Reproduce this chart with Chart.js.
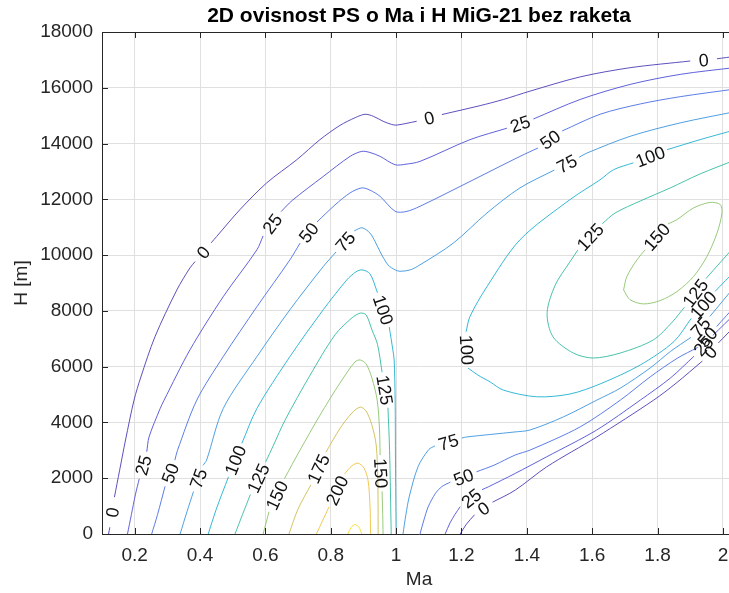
<!DOCTYPE html>
<html>
<head>
<meta charset="utf-8">
<title>2D ovisnost PS o Ma i H MiG-21 bez raketa</title>
<script src="https://cdn.jsdelivr.net/npm/chart.js@4.4.1/dist/chart.umd.min.js"></script>
<style>
  html, body { margin: 0; padding: 0; background: #fff; overflow: hidden; }
  #wrap { width: 760px; height: 593px; }
</style>
</head>
<body>
<div id="wrap"><canvas id="ps" width="760" height="593"></canvas></div>
<script>
'use strict';

// Axis ticks
const maTicks = [0.2, 0.4, 0.6, 0.8, 1, 1.2, 1.4, 1.6, 1.8, 2];
const hTicks = [0, 2000, 4000, 6000, 8000, 10000, 12000, 14000, 16000, 18000];

// Contour levels of PS
const levels = [0, 25, 50, 75, 100, 125, 150, 175, 200, 225];

// Contour lines as [Ma, H]; null marks the gap where the level label sits
const ps0a = [
  [0.120, 0], [0.124, 240], null,
  [0.138, 1320], [0.154, 2290], [0.172, 3370], [0.198, 4800], [0.219, 5630], [0.262, 7070],
  [0.329, 8750], [0.369, 9540], [0.385, 9770], null,
  [0.434, 10440], [0.451, 10670], [0.522, 11630], [0.604, 12590], [0.696, 13420], [0.767, 14140],
  [0.828, 14650], [0.875, 14930], [0.905, 15050], [0.93, 14980], [0.96, 14800], [0.985, 14690],
  [1.0, 14660], [1.03, 14720], [1.063, 14800], null,
  [1.14, 15040], [1.257, 15360], [1.328, 15580], [1.41, 15880], [1.563, 16390], [1.716, 16720],
  [1.9, 16960], null,
  [1.982, 17040], [2.04, 17130],
];
const ps0b = [
  [1.196, 0], [1.215, 350], [1.24, 690], null,
  [1.295, 1140], [1.364, 1570], [1.461, 2410], [1.614, 3480], [1.788, 4800], [1.857, 5410],
  [1.937, 6200], null,
  [1.986, 6850], [2.04, 7500],
];
const ps25a = [
  [0.178, 0], [0.19, 700], [0.202, 1400], [0.214, 1980], null,
  [0.237, 2950], [0.244, 3480], [0.278, 4500], [0.29, 4800], [0.369, 6600], [0.471, 8510],
  [0.574, 10190], [0.593, 10690], null,
  [0.648, 11560], [0.682, 11960], [0.777, 12820], [0.859, 13540], [0.895, 13720], [0.92, 13680],
  [0.951, 13540], [0.997, 13240], [1.03, 13260], [1.073, 13360], [1.226, 14140], [1.339, 14550], null,
  [1.42, 14880], [1.563, 15580], [1.716, 16120], [1.869, 16480], [2.04, 16730],
];
const ps25b = [
  [1.15, 0], [1.165, 400], [1.18, 700], [1.196, 980], null,
  [1.263, 1590], [1.282, 1690], [1.364, 2170], [1.461, 2770], [1.614, 3730], [1.747, 4800],
  [1.839, 5590], [1.911, 6370], null,
  [1.969, 7120], [2.04, 7930],
];
const ps50a = [
  [0.252, 0], [0.27, 700], [0.293, 1710], null,
  [0.323, 2650], [0.331, 3000], [0.39, 4800], [0.471, 6360], [0.574, 8150], [0.675, 9830],
  [0.706, 10430], null,
  [0.758, 11190], [0.813, 11800], [0.859, 12230], [0.895, 12410], [0.92, 12330], [0.951, 12105],
  [0.997, 11570], [1.03, 11560], [1.073, 11750], [1.226, 12640], [1.379, 13540], [1.434, 13840], null,
  [1.508, 14450], [1.624, 15050], [1.747, 15420], [1.869, 15680], [2.04, 15960],
];
const ps50b = [
  [1.073, 0], [1.085, 500], [1.098, 970], [1.12, 1450], [1.14, 1700], [1.166, 1860], null,
  [1.246, 2230], [1.30, 2470], [1.364, 2830], [1.41, 3010], [1.563, 3840], [1.686, 4800],
  [1.777, 5630], [1.86, 6300], [1.923, 6690], null,
  [1.981, 7440], [2.04, 8210],
];
const ps75a = [
  [0.339, 0], [0.36, 800], [0.38, 1520], null,
  [0.409, 2460], [0.42, 2650], [0.471, 4500], [0.574, 6360], [0.675, 8040], [0.777, 9590],
  [0.816, 10110], null,
  [0.872, 10870], [0.896, 10980], [0.92, 10790], [0.936, 10480], [0.951, 10120], [0.975, 9650],
  [0.997, 9470], [1.012, 9420], [1.043, 9470], [1.073, 9650], [1.175, 10430], [1.278, 11510],
  [1.379, 12410], [1.484, 13050], null,
  [1.56, 13510], [1.584, 13660], [1.716, 14260], [1.869, 14740], [2.04, 15150],
];
const ps75b = [
  [1.021, 0], [1.03, 700], [1.04, 1330], [1.067, 2410], [1.1, 3030], [1.119, 3160], null,
  [1.201, 3440], [1.216, 3480], [1.364, 3660], [1.41, 3730], [1.512, 4200], [1.614, 4800],
  [1.686, 5230], [1.777, 5950], [1.84, 6550], [1.902, 7050], null,
  [1.96, 7800], [2.04, 8930],
];
const ps100a = [
  [0.425, 0], [0.45, 900], [0.487, 2050], null,
  [0.528, 3250], [0.574, 4500], [0.675, 6360], [0.777, 8040], [0.849, 9110], [0.877, 9400],
  [0.896, 9470], [0.92, 9330], [0.943, 8650], null,
  [0.979, 7420], [0.99, 6600], [0.994, 6240], [0.997, 4800], [0.998, 2650], [1.0, 0],
];
const ps100b = [
  [2.04, 14500], [1.93, 14140], [1.829, 13780], null,
  [1.726, 13310], [1.665, 13060], [1.624, 12700], [1.532, 11990], [1.379, 10550], [1.278, 8870],
  [1.226, 7800], [1.214, 7250], null,
  [1.22, 5950], [1.25, 5700], [1.288, 5450], [1.328, 5160], [1.43, 4920], [1.532, 5020],
  [1.624, 5380], [1.747, 6060], [1.85, 6900], [1.903, 7730], null,
  [1.976, 8700], [2.04, 9470],
];
const ps125a = [
  [0.507, 0], [0.53, 700], [0.554, 1415], null,
  [0.601, 2590], [0.625, 3190], [0.66, 4080], [0.737, 5700], [0.813, 7140], [0.865, 7750],
  [0.89, 7920], [0.908, 7860], [0.926, 7320], [0.943, 6800], [0.957, 5800], null,
  [0.975, 4530], [0.98, 3000], [0.985, 0],
];
const ps125b = [
  [2.04, 13420], [1.93, 12910], [1.839, 12410], [1.747, 11940], [1.67, 11510], [1.631, 11130], null,
  [1.556, 10180], [1.532, 9760], [1.487, 8930], [1.462, 7930], [1.48, 7070], [1.542, 6490],
  [1.603, 6310], [1.686, 6490], [1.787, 6960], [1.845, 7600], [1.882, 8130], null,
  [1.948, 9160], [2.04, 10370],
];
const ps150a = [
  [0.593, 0], [0.611, 800], null,
  [0.658, 1980], [0.706, 3010], [0.767, 4260], [0.828, 5410], [0.874, 6170], [0.89, 6240],
  [0.908, 6100], [0.926, 5590], [0.942, 4800], [0.949, 3800], [0.951, 2830], null,
  [0.957, 1530], [0.959, 700], [0.96, 0],
];
const ps150b = [
  [1.696, 8750], [1.706, 9230], [1.737, 9830], [1.762, 10190], null,
  [1.832, 11120], [1.859, 11270], [1.91, 11690], [1.961, 11890], [1.992, 11810], [1.997, 11510],
  [1.982, 10790], [1.951, 9950], [1.91, 9230], [1.859, 8690], [1.808, 8370], [1.757, 8250],
  [1.716, 8400], [1.696, 8750],
];
const ps175 = [
  [0.672, 0], [0.7, 900], [0.739, 1760], null,
  [0.785, 2930], [0.829, 3800], [0.865, 4340], [0.89, 4550], [0.908, 4410], [0.926, 3900],
  [0.939, 3190], [0.944, 1930], [0.945, 0],
];
const ps200 = [
  [0.756, 0], [0.795, 980], null,
  [0.842, 2150], [0.865, 2450], [0.884, 2540], [0.902, 2360], [0.914, 1930], [0.92, 1030], [0.922, 0],
];
const ps225 = [
  [0.852, 0], [0.862, 230], [0.874, 340], [0.886, 250], [0.895, 0],
];

const contourLines = [
  [0, ps0a], [0, ps0b], [25, ps25a], [25, ps25b], [50, ps50a], [50, ps50b],
  [75, ps75a], [75, ps75b], [100, ps100a], [100, ps100b], [125, ps125a], [125, ps125b],
  [150, ps150a], [150, ps150b], [175, ps175], [200, ps200], [225, ps225],
];

// parula-like colours, one per level
const levelColors = ['#4a3db6', '#4e4fd6', '#4a6ee4', '#3b95df', '#1fb0cf',
  '#33bba2', '#8cc46c', '#cdbd4f', '#f2c23e', '#f5dd2a'];

const axisColor = '#262626';
const fontFamily = '"Liberation Sans", Arial, Helvetica, sans-serif';

const datasets = contourLines.map(([level, line]) => ({
  label: String(level),
  data: line.map((p) => (p ? { x: p[0], y: p[1] } : { x: null, y: null })),
  showLine: true,
  spanGaps: false,
  borderColor: levelColors[levels.indexOf(level)],
  borderWidth: 0.9,
  pointRadius: 0,
  pointHoverRadius: 0,
  tension: 0.3,
}));

// level labels written into the gaps of each contour line
const contourLabels = {
  id: 'contourLabels',
  afterDatasetsDraw(chart) {
    const { ctx, scales: { x, y } } = chart;
    chart.data.datasets.forEach((ds) => {
      const pts = ds.data;
      for (let i = 1; i < pts.length - 1; i++) {
        if (pts[i].y !== null) continue;
        const ax = x.getPixelForValue(pts[i - 1].x);
        const ay = y.getPixelForValue(pts[i - 1].y);
        const bx = x.getPixelForValue(pts[i + 1].x);
        const by = y.getPixelForValue(pts[i + 1].y);
        let ang = Math.atan2(by - ay, bx - ax);
        if (ang > Math.PI / 2) ang -= Math.PI;
        if (ang < -Math.PI / 2) ang += Math.PI;
        ctx.save();
        ctx.translate((ax + bx) / 2, (ay + by) / 2);
        ctx.rotate(ang);
        ctx.font = '18px ' + fontFamily;
        ctx.fillStyle = '#111';
        ctx.textAlign = 'center';
        ctx.textBaseline = 'alphabetic';
        ctx.fillText(ds.label, 0, 6.4);
        ctx.restore();
      }
    });
  },
};

// box and inward ticks like MATLAB axes
const axesBox = {
  id: 'axesBox',
  afterDatasetsDraw(chart) {
    const { ctx, chartArea: a, scales: { x, y } } = chart;
    ctx.save();
    ctx.strokeStyle = axisColor;
    ctx.lineWidth = 1;
    ctx.beginPath();
    ctx.moveTo(a.left, a.top + 0.5);
    ctx.lineTo(a.right, a.top + 0.5);
    ctx.moveTo(a.right - 0.5, a.top);
    ctx.lineTo(a.right - 0.5, a.bottom);
    maTicks.forEach((v) => {
      const px = Math.round(x.getPixelForValue(v)) + 0.5;
      ctx.moveTo(px, a.bottom);
      ctx.lineTo(px, a.bottom - 6);
      ctx.moveTo(px, a.top);
      ctx.lineTo(px, a.top + 6);
    });
    hTicks.forEach((v) => {
      const py = Math.round(y.getPixelForValue(v)) + 0.5;
      ctx.moveTo(a.left, py);
      ctx.lineTo(a.left + 6, py);
    });
    ctx.stroke();
    ctx.restore();
  },
};

const psChart = new Chart(document.getElementById('ps'), {
  type: 'scatter',
  data: { datasets },
  options: {
    responsive: false,
    animation: false,
    events: [],
    layout: { padding: { left: 0, right: 24, top: 0, bottom: 0 } },
    plugins: {
      legend: { display: false },
      tooltip: { enabled: false },
      title: {
        display: true,
        fullSize: false,
        text: '2D ovisnost PS o Ma i H MiG-21 bez raketa',
        color: '#000',
        font: { family: fontFamily, size: 21, weight: 'bold' },
        padding: { top: 4, bottom: 2.8 },
      },
    },
    scales: {
      x: {
        type: 'linear',
        min: 0.1,
        max: 2.04,
        afterBuildTicks: (s) => { s.ticks = maTicks.map((v) => ({ value: v })); },
        afterFit: (s) => { s.height = 59; },
        ticks: {
          autoSkip: false,
          maxRotation: 0,
          padding: 10,
          color: axisColor,
          font: { family: fontFamily, size: 19 },
          callback: (v) => String(v),
        },
        grid: { color: '#e0e0e0', drawTicks: false },
        border: { display: true, color: axisColor, width: 1 },
        title: {
          display: true,
          text: 'Ma',
          color: axisColor,
          font: { family: fontFamily, size: 19 },
          padding: { top: 0, bottom: 2 },
        },
      },
      y: {
        type: 'linear',
        min: 0,
        max: 18000,
        afterBuildTicks: (s) => { s.ticks = hTicks.map((v) => ({ value: v })); },
        afterFit: (s) => { s.width = 102; },
        ticks: {
          autoSkip: false,
          padding: 9,
          color: axisColor,
          font: { family: fontFamily, size: 19 },
          callback: (v) => String(v),
        },
        grid: { color: '#e0e0e0', drawTicks: false },
        border: { display: true, color: axisColor, width: 1 },
        title: {
          display: true,
          text: 'H [m]',
          color: axisColor,
          font: { family: fontFamily, size: 19 },
          padding: { top: 10.6, bottom: 0 },
        },
      },
    },
  },
  plugins: [contourLabels, axesBox],
});
</script>
</body>
</html>
